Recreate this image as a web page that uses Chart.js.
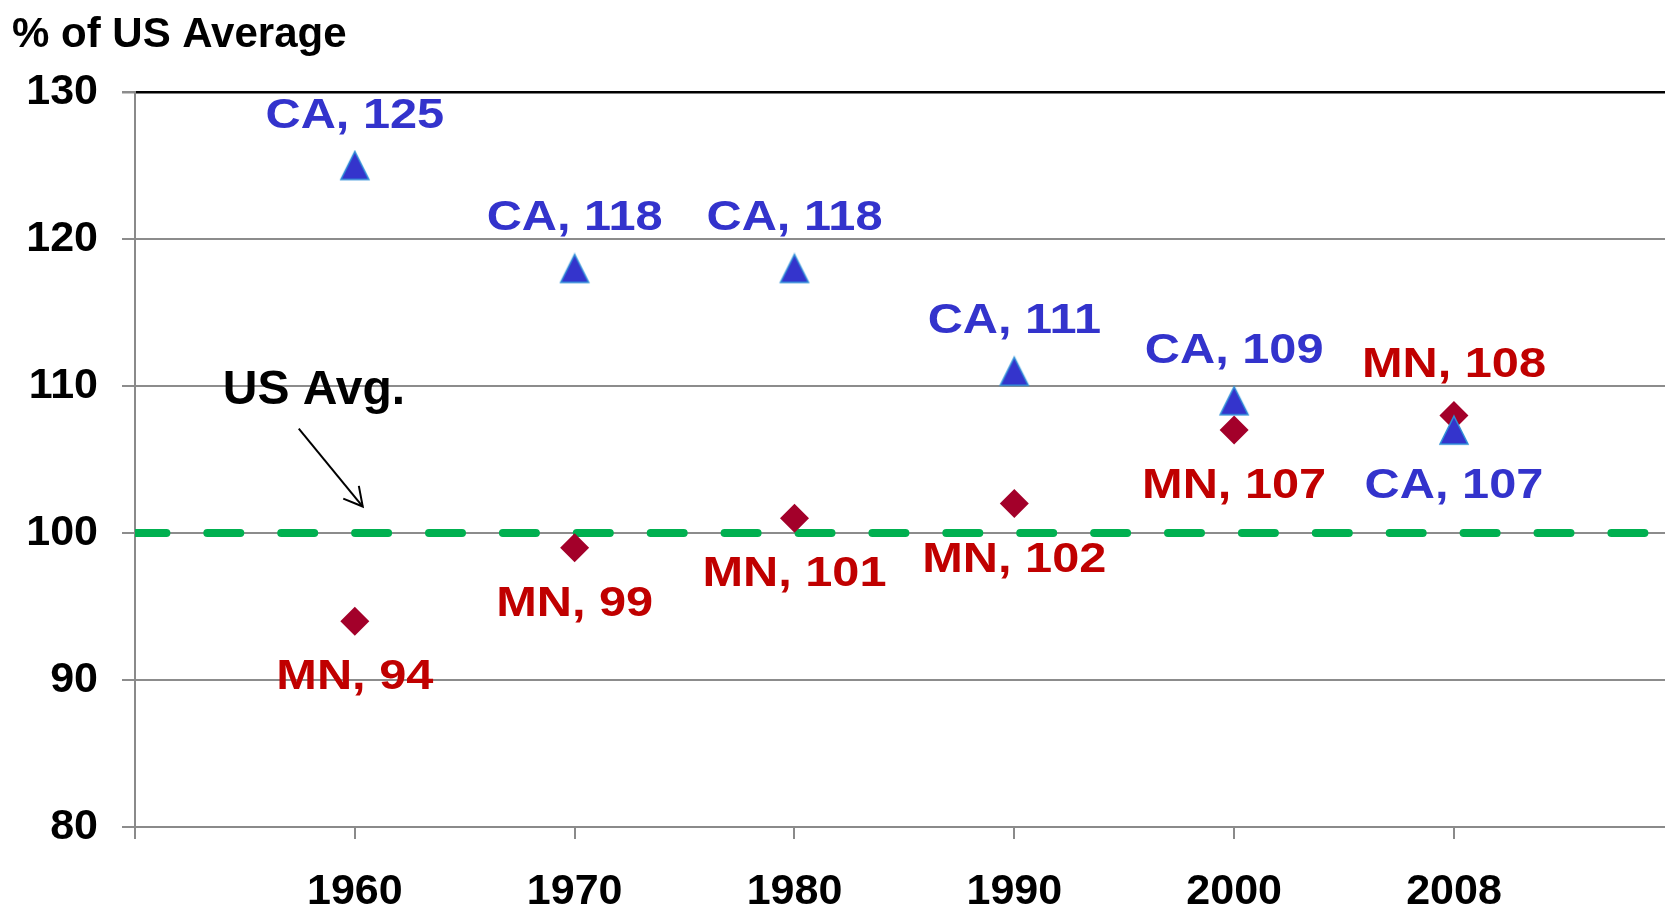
<!DOCTYPE html>
<html><head><meta charset="utf-8">
<script src="https://cdn.jsdelivr.net/npm/chart.js@4.4.0/dist/chart.umd.min.js"></script>
<style>html,body{margin:0;padding:0;background:#fff;overflow:hidden}#wrap{width:1665px;height:910px;position:relative}canvas{display:block}</style>
</head><body><div id="wrap"><canvas id="c" width="1665" height="910"></canvas></div>
<script>
// ---- data ----
const years = ['1960', '1970', '1980', '1990', '2000', '2008'];
const caValues = [125, 118, 118, 111, 109, 107];
const mnValues = [94, 99, 101, 102, 107, 108];
const usAverage = 100;
const seriesNames = ['CA', 'MN'];
const yTickMin = 80, yTickMax = 130, yTickStep = 10;
const axisTitle = '% of US Average';
const avgNote = 'US Avg.';

// ---- layout / style ----
const FONT = '"Liberation Sans", Arial, Helvetica, sans-serif';
const xMin = -1, xMax = 5.96;
const noteAt = { x: -0.186, y: 108.75 };
const arrowFrom = { x: -0.255, y: 107.1 }, arrowTo = { x: 0.036, y: 101.8 };

function triangleImage() {
  const c = document.createElement('canvas');
  c.width = 32; c.height = 32;
  const g = c.getContext('2d');
  g.beginPath();
  g.moveTo(16, 2); g.lineTo(30, 30); g.lineTo(2, 30); g.closePath();
  g.fillStyle = '#3434CC'; g.fill();
  g.lineWidth = 1.5; g.strokeStyle = '#2E8FD8'; g.stroke();
  return c;
}

const decor = {
  id: 'decor',
  afterDatasetsDraw(chart) {
    const ctx = chart.ctx, xs = chart.scales.x, ys = chart.scales.y;
    // data labels
    const cols = ['#3333CC', '#C00000'];
    const vals = [caValues, mnValues];
    ctx.save();
    ctx.font = 'bold 42px ' + FONT;
    ctx.textAlign = 'center';
    ctx.textBaseline = 'alphabetic';
    const capH = 42 * 0.716;
    for (let s = 0; s < 2; s++) {
      const meta = chart.getDatasetMeta(s);
      meta.data.forEach((pt, i) => {
        const v = vals[s][i], other = vals[1 - s][i];
        const above = v >= other;
        const mid = above ? pt.y - 53 : pt.y + 53;
        ctx.save();
        ctx.translate(pt.x, mid + capH / 2);
        ctx.scale(1.16, 1);
        ctx.fillStyle = cols[s];
        ctx.fillText(seriesNames[s] + ', ' + v, 0, 0);
        ctx.restore();
      });
    }
    // title
    ctx.fillStyle = '#000';
    ctx.textAlign = 'left';
    ctx.font = 'bold 42px ' + FONT;
    ctx.fillText(axisTitle, 12, 47);
    // annotation
    ctx.textAlign = 'center';
    ctx.font = 'bold 48px ' + FONT;
    ctx.fillText(avgNote, xs.getPixelForValue(noteAt.x), ys.getPixelForValue(noteAt.y));
    const x1 = xs.getPixelForValue(arrowFrom.x), y1 = ys.getPixelForValue(arrowFrom.y);
    const x2 = xs.getPixelForValue(arrowTo.x), y2 = ys.getPixelForValue(arrowTo.y);
    ctx.strokeStyle = '#000'; ctx.lineWidth = 2;
    ctx.beginPath(); ctx.moveTo(x1, y1); ctx.lineTo(x2, y2); ctx.stroke();
    const ang = Math.atan2(y2 - y1, x2 - x1), hl = 21, ha = 0.5;
    ctx.beginPath();
    ctx.moveTo(x2 - hl * Math.cos(ang - ha), y2 - hl * Math.sin(ang - ha));
    ctx.lineTo(x2, y2);
    ctx.lineTo(x2 - hl * Math.cos(ang + ha), y2 - hl * Math.sin(ang + ha));
    ctx.stroke();
    ctx.restore();
  }
};

const tri = triangleImage();

new Chart(document.getElementById('c'), {
  type: 'scatter',
  data: {
    datasets: [
      {
        label: seriesNames[0],
        data: years.map((_, i) => ({ x: i, y: caValues[i] })),
        pointStyle: tri, pointRadius: 14,
        backgroundColor: '#3434CC', borderColor: '#2E8FD8',
        order: 0
      },
      {
        label: seriesNames[1],
        data: years.map((_, i) => ({ x: i, y: mnValues[i] })),
        pointStyle: 'rectRot', pointRadius: 14.5,
        backgroundColor: '#A3002A', borderWidth: 0,
        order: 1
      },
      {
        type: 'line',
        label: 'US Avg.',
        data: [{ x: xMin, y: usAverage }, { x: xMax, y: usAverage }],
        borderColor: '#00B050', borderWidth: 8,
        borderDash: [33, 40.9], borderDashOffset: 1.6, borderCapStyle: 'round',
        pointRadius: 0, showLine: true, fill: false, clip: 0,
        order: 2
      }
    ]
  },
  options: {
    responsive: false,
    animation: false,
    devicePixelRatio: 1,
    events: [],
    layout: { autoPadding: false, padding: { top: 92, left: 0, right: 0, bottom: 0 } },
    plugins: { legend: { display: false }, tooltip: { enabled: false }, title: { display: false } },
    scales: {
      x: {
        type: 'linear', min: xMin, max: xMax,
        afterBuildTicks: s => { s.ticks = [-1].concat(years.map((_, i) => i)).map(v => ({ value: v })); },
        afterFit: s => { s.height = 83; s.paddingLeft = 0; s.paddingRight = 0; },
        ticks: {
          callback: v => (years[v] !== undefined ? years[v] : ''),
          font: { family: FONT, size: 43, weight: 'bold' }, color: '#000',
          padding: 27, maxRotation: 0, autoSkip: false
        },
        grid: { drawOnChartArea: false, drawTicks: true, tickLength: 12, color: '#8a8a8a', lineWidth: 2 },
        border: { display: true, color: '#8a8a8a', width: 2 }
      },
      y: {
        min: yTickMin, max: yTickMax,
        afterFit: s => { s.width = 135; },
        ticks: {
          stepSize: yTickStep,
          font: { family: FONT, size: 43, weight: 'bold' }, color: '#000', padding: 24
        },
        grid: {
          color: c => (c.tick && c.tick.value === yTickMax ? '#000' : '#8c8c8c'),
          lineWidth: c => (c.tick && c.tick.value === yTickMax ? 2.5 : 2),
          tickColor: '#8c8c8c', tickLength: 13
        },
        border: { display: true, color: '#8a8a8a', width: 2 }
      }
    }
  },
  plugins: [decor]
});
</script>
</body></html>
